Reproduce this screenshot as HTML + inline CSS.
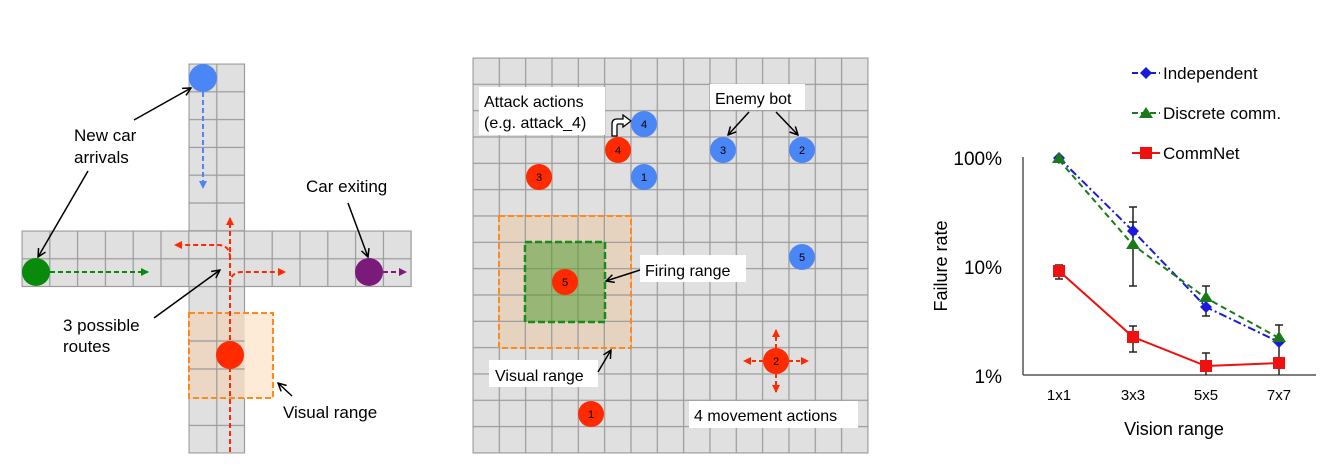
<!DOCTYPE html>
<html><head><meta charset="utf-8"><style>
body{margin:0;background:#fff}
svg{display:block;font-family:"Liberation Sans",sans-serif}
</style></head><body>
<svg width="1333" height="470" viewBox="0 0 1333 470" xmlns="http://www.w3.org/2000/svg">
<defs>
<pattern id="g1" x="189" y="64" width="27.8" height="27.8" patternUnits="userSpaceOnUse">
<rect width="27.8" height="27.8" fill="#e0e0e0" stroke="#9a9a9a" stroke-width="1.2"/></pattern>
<pattern id="g2" x="22" y="231" width="27.8" height="27.8" patternUnits="userSpaceOnUse">
<rect width="27.8" height="27.8" fill="#e0e0e0" stroke="#9a9a9a" stroke-width="1.2"/></pattern>
<pattern id="g3" x="473" y="58" width="26.33" height="26.33" patternUnits="userSpaceOnUse">
<rect width="26.33" height="26.33" fill="#e0e0e0" stroke="#9a9a9a" stroke-width="1.2"/></pattern>
<marker id="ak" markerWidth="10" markerHeight="10" refX="9" refY="5" orient="auto" markerUnits="userSpaceOnUse"><path d="M1,1 L9,5 L1,9" fill="none" stroke="#000" stroke-width="1.5"/></marker>
<marker id="ar" markerWidth="8" markerHeight="8" refX="7" refY="4" orient="auto" markerUnits="userSpaceOnUse"><path d="M0,0 L8,4 L0,8 z" fill="#ff2a00"/></marker>
<marker id="abl" markerWidth="8" markerHeight="8" refX="7" refY="4" orient="auto" markerUnits="userSpaceOnUse"><path d="M0,0 L8,4 L0,8 z" fill="#4a86f5"/></marker>
<marker id="agr" markerWidth="8" markerHeight="8" refX="7" refY="4" orient="auto" markerUnits="userSpaceOnUse"><path d="M0,0 L8,4 L0,8 z" fill="#0a8a0a"/></marker>
<marker id="apu" markerWidth="8" markerHeight="8" refX="7" refY="4" orient="auto" markerUnits="userSpaceOnUse"><path d="M0,0 L8,4 L0,8 z" fill="#7a1a7a"/></marker>
</defs>

<!-- LEFT PANEL -->
<rect x="189" y="64" width="55.6" height="389" fill="url(#g1)" stroke="#9a9a9a"/>
<rect x="22" y="231" width="389.2" height="55.6" fill="url(#g2)" stroke="#9a9a9a"/>
<rect x="189" y="313" width="84" height="85" fill="#fdebd8"/>
<rect x="189" y="313" width="55.6" height="85" fill="#e8d4c0" opacity="0.85"/>
<g stroke="#9a9a9a" stroke-width="1.2"><line x1="189" y1="341" x2="244.6" y2="341"/><line x1="189" y1="369" x2="244.6" y2="369"/><line x1="216.8" y1="313" x2="216.8" y2="398"/></g>
<rect x="189" y="313" width="84" height="85" fill="none" stroke="#ff8a1a" stroke-width="2" stroke-dasharray="6,3"/>
<g fill="none" stroke-width="2" stroke-dasharray="5,3">
<line x1="203" y1="92" x2="203" y2="188" stroke="#4a86f5" marker-end="url(#abl)"/>
<line x1="50" y1="272" x2="148" y2="272" stroke="#0a8a0a" marker-end="url(#agr)"/>
<line x1="383" y1="272" x2="406" y2="272" stroke="#7a1a7a" marker-end="url(#apu)"/>
<path d="M230,452 L230,218" stroke="#ff2a00" marker-end="url(#ar)"/>
<path d="M230,258 Q230,245 218,245 L175,245" stroke="#ff2a00" marker-end="url(#ar)"/>
<path d="M230,285 Q230,272 242,272 L285,272" stroke="#ff2a00" marker-end="url(#ar)"/>
</g>
<circle cx="203" cy="78" r="14" fill="#4a86f5"/>
<circle cx="36" cy="272" r="14" fill="#0a8a0a"/>
<circle cx="369" cy="272" r="14" fill="#7a1a7a"/>
<circle cx="230" cy="355" r="14" fill="#ff2a00"/>
<g stroke="#000" stroke-width="1.5" fill="none">
<line x1="134" y1="120" x2="191" y2="88" marker-end="url(#ak)"/>
<line x1="88" y1="171" x2="38" y2="257" marker-end="url(#ak)"/>
<line x1="348" y1="203" x2="368" y2="257" marker-end="url(#ak)"/>
<line x1="154" y1="318" x2="220" y2="270" marker-end="url(#ak)"/>
<line x1="292" y1="396" x2="278" y2="383" marker-end="url(#ak)"/>
</g>
<g font-size="17" fill="#000">
<text x="74" y="141">New car</text><text x="74" y="163">arrivals</text>
<text x="306" y="192">Car exiting</text>
<text x="63" y="331">3 possible</text><text x="63" y="352">routes</text>
<text x="283" y="418">Visual range</text>
</g>

<!-- MIDDLE PANEL -->
<rect x="473" y="58" width="395" height="395" fill="url(#g3)" stroke="#9a9a9a"/>
<rect x="499" y="216" width="132" height="132" fill="#e6d2bd" opacity="0.9"/>
<g stroke="#9a9a9a" stroke-width="1.2"><line x1="499" y1="242.3" x2="631" y2="242.3"/><line x1="499" y1="268.7" x2="631" y2="268.7"/><line x1="499" y1="295" x2="631" y2="295"/><line x1="499" y1="321.3" x2="631" y2="321.3"/><line x1="525.3" y1="216" x2="525.3" y2="348"/><line x1="551.7" y1="216" x2="551.7" y2="348"/><line x1="578" y1="216" x2="578" y2="348"/><line x1="604.3" y1="216" x2="604.3" y2="348"/></g>
<rect x="525" y="242" width="80" height="80" fill="#8fb46e" opacity="0.9"/>
<g stroke="#7a9a5e" stroke-width="1.2"><line x1="525" y1="268.7" x2="605" y2="268.7"/><line x1="525" y1="295" x2="605" y2="295"/><line x1="551.7" y1="242" x2="551.7" y2="322"/><line x1="578" y1="242" x2="578" y2="322"/></g>
<rect x="499" y="216" width="132" height="132" fill="none" stroke="#ff8a1a" stroke-width="2" stroke-dasharray="6,3"/>
<rect x="525" y="242" width="80" height="80" fill="none" stroke="#1a8a1a" stroke-width="2.5" stroke-dasharray="7,3"/>
<g fill="#fff"><rect x="479" y="87" width="126" height="48"/><rect x="710" y="84" width="95" height="26"/><rect x="640" y="255" width="106" height="27"/><rect x="489" y="360" width="109" height="27"/><rect x="689" y="401" width="169" height="27"/></g>
<g font-size="16" fill="#000">
<text x="484" y="107">Attack actions</text><text x="484" y="128">(e.g. attack_4)</text>
<text x="715" y="104">Enemy bot</text>
<text x="645" y="276">Firing range</text>
<text x="495" y="381">Visual range</text>
<text x="694" y="421">4 movement actions</text>
</g>
<g stroke="#000" stroke-width="1.5" fill="none">
<line x1="749" y1="112" x2="728" y2="135" marker-end="url(#ak)"/>
<line x1="776" y1="112" x2="798" y2="135" marker-end="url(#ak)"/>
<line x1="640" y1="270" x2="606" y2="281" marker-end="url(#ak)"/>
<line x1="598" y1="372" x2="611" y2="350" marker-end="url(#ak)"/>
</g>
<path d="M612,136 L612,124 Q612,119 617,119 L623,119 L623,115 L631,121 L623,127 L623,124 L618,124 Q617,124 617,126 L617,136 Z" fill="#fff" stroke="#000" stroke-width="1.3"/>
<g fill="none" stroke="#ff2a00" stroke-width="2" stroke-dasharray="4,3">
<line x1="776" y1="348" x2="776" y2="330" marker-end="url(#ar)"/>
<line x1="776" y1="374" x2="776" y2="392" marker-end="url(#ar)"/>
<line x1="763" y1="361" x2="744" y2="361" marker-end="url(#ar)"/>
<line x1="789" y1="361" x2="808" y2="361" marker-end="url(#ar)"/>
</g>
<g font-size="11" text-anchor="middle" fill="#000">
<circle cx="644" cy="124" r="13" fill="#4a86f5"/><text x="644" y="128">4</text>
<circle cx="618" cy="150" r="13" fill="#ff2a00"/><text x="618" y="154">4</text>
<circle cx="723" cy="150" r="13" fill="#4a86f5"/><text x="723" y="154">3</text>
<circle cx="802" cy="150" r="13" fill="#4a86f5"/><text x="802" y="154">2</text>
<circle cx="539" cy="177" r="13" fill="#ff2a00"/><text x="539" y="181">3</text>
<circle cx="644" cy="177" r="13" fill="#4a86f5"/><text x="644" y="181">1</text>
<circle cx="802" cy="257" r="13" fill="#4a86f5"/><text x="802" y="261">5</text>
<circle cx="565" cy="282" r="13" fill="#ff2a00"/><text x="565" y="286">5</text>
<circle cx="776" cy="361" r="13" fill="#ff2a00"/><text x="776" y="365">2</text>
<circle cx="591" cy="414" r="13" fill="#ff2a00"/><text x="591" y="418">1</text>
</g>

<!-- RIGHT PANEL: chart -->
<g fill="#000">
<line x1="1023" y1="157" x2="1023" y2="375" stroke="#555" stroke-width="1.5"/>
<line x1="1023" y1="375" x2="1316" y2="375" stroke="#555" stroke-width="1.5"/>
<g font-size="19" text-anchor="end"><text x="1002" y="165">100%</text><text x="1002" y="274">10%</text><text x="1002" y="383">1%</text></g>
<g font-size="15" text-anchor="middle"><text x="1059" y="400">1x1</text><text x="1133" y="400">3x3</text><text x="1206" y="400">5x5</text><text x="1279" y="400">7x7</text></g>
<text x="1174" y="435" font-size="18" text-anchor="middle">Vision range</text>
<text transform="translate(947,266) rotate(-90)" font-size="18" text-anchor="middle">Failure rate</text>
<g stroke="#222" stroke-width="1.5">
<line x1="1133" y1="207" x2="1133" y2="286"/><line x1="1129" y1="207" x2="1137" y2="207"/><line x1="1129" y1="286" x2="1137" y2="286"/>
<line x1="1133" y1="222" x2="1133" y2="238"/><line x1="1129" y1="222" x2="1137" y2="222"/>
<line x1="1206" y1="286" x2="1206" y2="316"/><line x1="1202" y1="286" x2="1210" y2="286"/><line x1="1202" y1="316" x2="1210" y2="316"/>
<line x1="1279" y1="325" x2="1279" y2="375"/><line x1="1275" y1="325" x2="1283" y2="325"/>
<line x1="1059" y1="265" x2="1059" y2="279"/><line x1="1055" y1="265" x2="1063" y2="265"/><line x1="1055" y1="279" x2="1063" y2="279"/>
<line x1="1133" y1="326" x2="1133" y2="352"/><line x1="1129" y1="326" x2="1137" y2="326"/><line x1="1129" y1="352" x2="1137" y2="352"/>
<line x1="1206" y1="353" x2="1206" y2="375"/><line x1="1202" y1="353" x2="1210" y2="353"/>
</g>
<polyline points="1059,158 1133,231 1206,307 1279,342" fill="none" stroke="#1a1adc" stroke-width="2" stroke-dasharray="8,3,2,3"/>
<polyline points="1059,160 1133,245 1206,298 1279,338" fill="none" stroke="#1a7a1a" stroke-width="2" stroke-dasharray="6,4"/>
<polyline points="1059,271 1133,337 1206,366 1279,363" fill="none" stroke="#f01010" stroke-width="2"/>
<g fill="#1a1adc"><path d="M1059,152 l6,6 -6,6 -6,-6z"/><path d="M1133,225 l6,6 -6,6 -6,-6z"/><path d="M1206,301 l6,6 -6,6 -6,-6z"/><path d="M1279,336 l6,6 -6,6 -6,-6z"/></g>
<g fill="#1a7a1a"><path d="M1059,152 l7,11 -14,0z"/><path d="M1133,238 l7,11 -14,0z"/><path d="M1206,291 l7,11 -14,0z"/><path d="M1279,331 l7,11 -14,0z"/></g>
<g fill="#f01010"><rect x="1053" y="265" width="12" height="12"/><rect x="1127" y="331" width="12" height="12"/><rect x="1200" y="360" width="12" height="12"/><rect x="1273" y="357" width="12" height="12"/></g>
<line x1="1132" y1="73" x2="1160" y2="73" stroke="#1a1adc" stroke-width="2" stroke-dasharray="6,3"/><path d="M1146,67 l6,6 -6,6 -6,-6z" fill="#1a1adc"/>
<line x1="1132" y1="113" x2="1160" y2="113" stroke="#1a7a1a" stroke-width="2" stroke-dasharray="6,3"/><path d="M1146,107 l7,11 -14,0z" fill="#1a7a1a"/>
<line x1="1132" y1="153" x2="1160" y2="153" stroke="#f01010" stroke-width="2"/><rect x="1140" y="147" width="12" height="12" fill="#f01010"/>
<g font-size="17"><text x="1163" y="79">Independent</text><text x="1163" y="119">Discrete comm.</text><text x="1163" y="159">CommNet</text></g>
</g>
</svg>
</body></html>
